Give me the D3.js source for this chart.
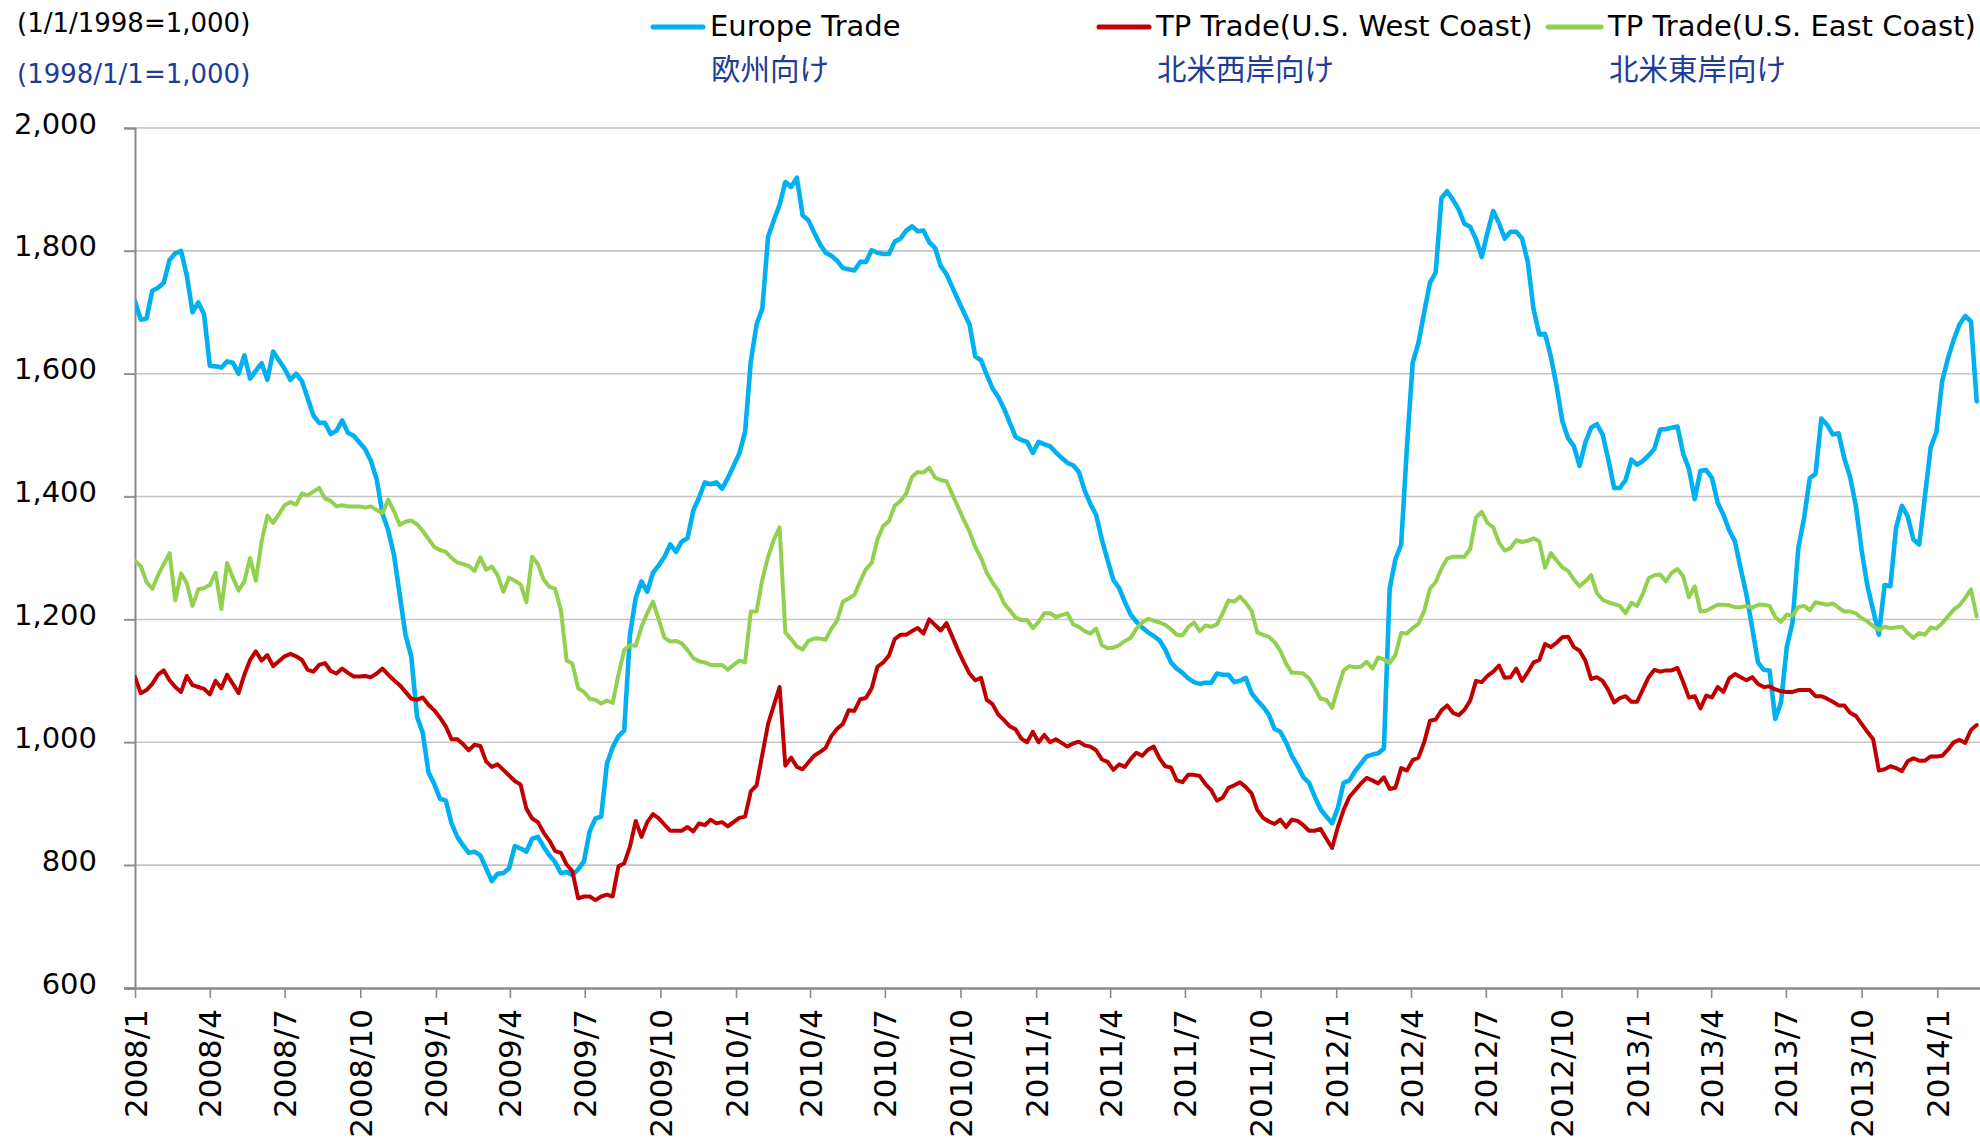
<!DOCTYPE html>
<html><head><meta charset="utf-8">
<script src="https://cdn.jsdelivr.net/npm/d3@7"></script>
<style>html,body{margin:0;padding:0;background:#fff;} svg{display:block;}</style>
</head><body>
<svg id="chart" width="1980" height="1144"></svg>
<script>
// ---- data (weekly index values, 1998/1/1 = 1,000) ----
const firstWeek = "2008-01-01";
const weekStepDays = 7;

const europe = [
1718,1688,1690,1735,1740,1748,1785,1796,1800,1760,
1700,1716,1697,1613,1612,1610,1620,1618,1600,1630,
1592,1605,1617,1590,1636,1622,1608,1590,1600,1588,
1560,1532,1520,1520,1502,1507,1524,1504,1499,1488,
1477,1458,1428,1372,1345,1305,1240,1175,1140,1042,
1015,951,932,908,905,868,846,832,820,822,
816,795,774,786,787,
795,831,827,822,843,846,830,816,805,787,
789,784,793,806,855,876,879,965,992,1010,
1019,1175,1235,1262,1245,1276,1288,1302,1322,1310,
1327,1332,1377,1398,1423,1420,1423,1413,1430,1450,
1470,1505,1620,1680,1706,1823,1850,1875,1912,1904,
1919,1858,1850,1830,1811,1797,1792,1784,1772,1770,
1768,1782,1782,1801,
1797,1795,1795,1815,1820,1833,1840,1832,1833,1814,
1805,1775,1762,1741,1720,1700,1680,1628,1622,1598,
1576,1562,1543,1520,1497,1492,1489,1471,1489,1485,
1482,1472,1463,1455,1451,1440,1410,1388,1370,1330,
1296,1264,1251,1228,1208,1196,1187,1179,1173,1166,
1151,1130,1120,1113,1104,1098,1095,1097,1097,1112,
1110,1110,1098,1100,
1105,1080,1068,1058,1045,1022,1017,1000,978,962,
943,934,911,891,879,868,893,934,938,953,
965,977,980,982,990,1250,1298,1322,1480,1618,
1650,1700,1748,1765,1886,1897,1883,1867,1844,1839,
1819,1790,1830,1865,1845,1820,1831,1831,1820,1782,
1705,1664,1665,1628,1580,1523,1495,1482,1450,1488,
1512,1518,1501,1460,
1414,1414,1427,1460,1452,1458,1467,1478,1509,1510,
1512,1514,1470,1445,1396,1442,1443,1430,1390,1370,
1345,1327,1282,1240,1186,1130,1118,1117,1038,1065,
1155,1195,1316,1365,1430,1437,1527,1517,1501,1503,
1462,1432,1385,1313,1255,1215,1175,1256,1254,1350,
1385,1368,1330,1322,1400,1480,1505,1588,1625,1655,
1680,1694,1685,1555
];

const westCoast = [
1106,1080,1085,1095,1110,1117,1101,1090,1082,1108,
1093,1090,1087,1078,1100,1088,1110,1095,1080,1110,
1134,1148,1133,1142,1124,1132,1140,1144,1140,1134,
1118,1115,1126,1129,1116,1112,1120,1113,1107,1107,
1108,1106,1112,1120,1110,1101,1093,1082,1071,1069,
1073,1061,1052,1040,1026,1005,1005,997,987,996,
994,969,960,964,955,
946,937,931,892,876,870,853,840,823,820,
801,790,746,749,749,743,749,752,749,798,
803,830,872,846,870,883,876,866,856,856,
856,862,855,868,865,874,868,870,863,870,
877,879,920,930,980,1030,1060,1090,962,975,
960,956,967,978,984,991,1010,1022,1030,1052,
1051,1070,1072,1088,
1123,1130,1141,1168,1175,1175,1181,1186,1177,1200,
1191,1182,1194,1172,1150,1130,1112,1101,1105,1069,
1062,1045,1036,1026,1021,1006,1000,1017,1000,1012,
1000,1005,999,993,998,1001,995,993,987,972,
968,955,964,960,973,983,978,988,993,974,
961,959,938,935,947,947,945,932,922,905,
910,926,930,935,
927,917,890,877,871,867,874,862,874,872,
865,856,856,859,843,828,862,890,911,922,
933,942,938,933,943,924,926,958,954,971,
975,1000,1035,1037,1052,1060,1048,1044,1053,1068,
1100,1098,1108,1115,1125,1105,1106,1120,1100,1114,
1130,1134,1160,1155,1162,1171,1172,1155,1149,1133,
1103,1106,1100,1085,
1065,1072,1075,1066,1066,1086,1106,1118,1115,1117,
1117,1121,1098,1073,1075,1055,1076,1073,1090,1082,
1104,1111,1106,1101,1106,1095,1090,1091,1086,1083,
1082,1082,1085,1085,1085,1075,1075,1071,1066,1060,
1060,1048,1043,1030,1017,1005,954,956,961,958,
953,969,974,970,970,977,977,978,988,1000,
1004,999,1020,1028
];

const eastCoast = [
1295,1287,1261,1250,1272,1290,1308,1231,1275,1259,
1222,1249,1251,1256,1276,1217,1292,1268,1247,1262,
1300,1263,1327,1369,1357,1371,1386,1391,1387,1405,
1402,1408,1414,1397,1393,1384,1386,1384,1384,1384,
1382,1384,1378,1373,1395,1376,1354,1359,1361,1355,
1344,1331,1318,1313,1310,1300,1293,1290,1287,1279,
1301,1281,1286,1272,1245,
1268,1263,1257,1228,1302,1290,1265,1253,1250,1215,
1133,1128,1088,1082,1071,1069,1063,1068,1064,1110,
1150,1158,1157,1188,1210,1229,1200,1170,1164,1165,
1161,1150,1137,1132,1130,1126,1126,1126,1118,1126,
1133,1130,1213,1213,1265,1302,1330,1350,1179,1168,
1156,1151,1165,1169,1169,1167,1185,1198,1229,1234,
1240,1262,1282,1292,
1330,1352,1360,1385,1393,1405,1432,1440,1439,1447,
1431,1427,1425,1404,1383,1362,1343,1318,1300,1276,
1260,1247,1226,1215,1203,1199,1199,1186,1196,1210,
1210,1204,1207,1210,1192,1188,1181,1177,1185,1158,
1153,1154,1158,1165,1170,1185,1195,1201,1198,1195,
1191,1184,1175,1174,1188,1195,1181,1190,1188,1192,
1210,1231,1229,1237,
1227,1214,1179,1175,1172,1163,1149,1128,1113,1113,
1112,1104,1088,1071,1069,1056,1088,1117,1124,1122,
1123,1131,1120,1138,1135,1129,1142,1178,1177,1186,
1193,1214,1250,1261,1283,1299,1302,1302,1302,1315,
1366,1375,1357,1350,1325,1312,1316,1329,1326,1328,
1332,1327,1284,1308,1296,1285,1279,1265,1254,1262,
1272,1243,1232,1228,
1225,1222,1210,1227,1222,1242,1267,1272,1273,1262,
1276,1282,1270,1236,1254,1213,1214,1219,1224,1224,
1223,1220,1220,1222,1219,1224,1224,1222,1204,1196,
1208,1206,1220,1222,1215,1228,1226,1224,1226,1219,
1213,1213,1210,1202,1197,1189,1183,1188,1186,1187,
1188,1178,1170,1178,1175,1187,1185,1194,1205,1216,
1223,1235,1249,1205
];

const yTickValues = [600, 800, 1000, 1200, 1400, 1600, 1800, 2000];
const xTickLabels = ["2008/1","2008/4","2008/7","2008/10","2009/1","2009/4","2009/7","2009/10",
  "2010/1","2010/4","2010/7","2010/10","2011/1","2011/4","2011/7","2011/10",
  "2012/1","2012/4","2012/7","2012/10","2013/1","2013/4","2013/7","2013/10","2014/1"];
const seriesNames = ["Europe Trade", "TP Trade(U.S. West Coast)", "TP Trade(U.S. East Coast)"];
const seriesNamesJa = ["欧州向け", "北米西岸向け", "北米東岸向け"];
const seriesColors = ["#00B0F0", "#C00000", "#92D050"];
const unitNoteEn = "(1/1/1998=1,000)";
const unitNoteJa = "(1998/1/1=1,000)";

// ---- build ----
const parseDay = d3.timeParse("%Y-%m-%d");
const start = parseDay(firstWeek);
const dates = europe.map((_, i) => d3.timeDay.offset(start, i * weekStepDays));
const tickDates = xTickLabels.map(s => { const [y, m] = s.split("/").map(Number); return new Date(y, m - 1, 1); });

const L = 135, R = 1980, T = 128, B = 988;
const x = d3.scaleTime().domain([new Date(2008, 0, 1), new Date(2014, 1, 22)]).range([L, R]);
const y = d3.scaleLinear().domain([600, 2000]).range([B, T]);

const svg = d3.select("#chart");
const latin = "'DejaVu Sans', Verdana, sans-serif";
const cjk = "'Noto Sans CJK JP', sans-serif";
const jaColor = "#1F3C98";
const axisColor = "#8A8A8A";

// gridlines
svg.append("g").selectAll("line").data(yTickValues.filter(v => v > 600)).join("line")
  .attr("x1", 124).attr("x2", R).attr("y1", d => y(d)).attr("y2", d => y(d))
  .attr("stroke", "#C4C4C4").attr("stroke-width", 1.6);

// y axis
const yAxis = svg.append("g").attr("transform", `translate(${L},0)`)
  .call(d3.axisLeft(y).tickValues(yTickValues).tickSize(11).tickPadding(27).tickFormat(d3.format(",")));
yAxis.select(".domain").attr("stroke", axisColor).attr("stroke-width", 2);
yAxis.selectAll(".tick line").attr("stroke", axisColor).attr("stroke-width", 1.6);
yAxis.selectAll(".tick text").attr("font-family", latin).attr("font-size", 29).attr("fill", "#000")
  .attr("dy", null).attr("y", -5).attr("dominant-baseline", "central");

// x axis
const xAxis = svg.append("g").attr("transform", `translate(0,${B})`)
  .call(d3.axisBottom(x).tickValues(tickDates).tickSize(10).tickFormat((d, i) => xTickLabels[i]));
xAxis.select(".domain").attr("stroke", axisColor).attr("stroke-width", 2.4).attr("d", `M${L - 11},0.5H${R}`);
xAxis.selectAll(".tick line").attr("stroke", axisColor).attr("stroke-width", 1.6);
xAxis.selectAll(".tick text").attr("font-family", latin).attr("font-size", 31).attr("fill", "#000")
  .attr("dy", null).attr("y", null)
  .attr("transform", "translate(0,21) rotate(-90)")
  .attr("text-anchor", "end").attr("dominant-baseline", "central");

// lines
const line = d3.line().x((d, i) => x(dates[i])).y(d => y(d)).curve(d3.curveLinear);
svg.append("defs").append("clipPath").attr("id", "plotclip").append("rect")
  .attr("x", L).attr("y", T - 10).attr("width", R - L).attr("height", B - T + 10);
const lines = svg.append("g").attr("clip-path", "url(#plotclip)");
[europe, westCoast, eastCoast].forEach((s, k) => {
  lines.append("path").datum(s).attr("d", line).attr("fill", "none")
    .attr("stroke", seriesColors[k]).attr("stroke-width", k === 0 ? 4.6 : 4)
    .attr("stroke-linejoin", "round").attr("stroke-linecap", "round");
});

// unit notes
svg.append("text").attr("x", 17).attr("y", 23).attr("dominant-baseline", "central")
  .attr("font-family", latin).attr("font-size", 26).attr("fill", "#000").text(unitNoteEn);
svg.append("text").attr("x", 17).attr("y", 74).attr("dominant-baseline", "central")
  .attr("font-family", latin).attr("font-size", 26).attr("fill", jaColor).text(unitNoteJa);

// legend
const legendX = [653, 1099, 1548];
const legendW = [50, 50, 53];
const leg = svg.append("g");
seriesNames.forEach((name, k) => {
  leg.append("line").attr("x1", legendX[k]).attr("x2", legendX[k] + legendW[k]).attr("y1", 27).attr("y2", 27)
    .attr("stroke", seriesColors[k]).attr("stroke-width", 5).attr("stroke-linecap", "round");
  leg.append("text").attr("x", legendX[k] + legendW[k] + 7).attr("y", 26).attr("dominant-baseline", "central")
    .attr("font-family", latin).attr("font-size", 29).attr("fill", "#000").text(name);
  leg.append("text").attr("x", legendX[k] + legendW[k] + 8).attr("y", 67).attr("dominant-baseline", "central")
    .attr("font-family", cjk).attr("font-size", 29.5).attr("fill", jaColor).text(seriesNamesJa[k]);
});
</script>
</body></html>
